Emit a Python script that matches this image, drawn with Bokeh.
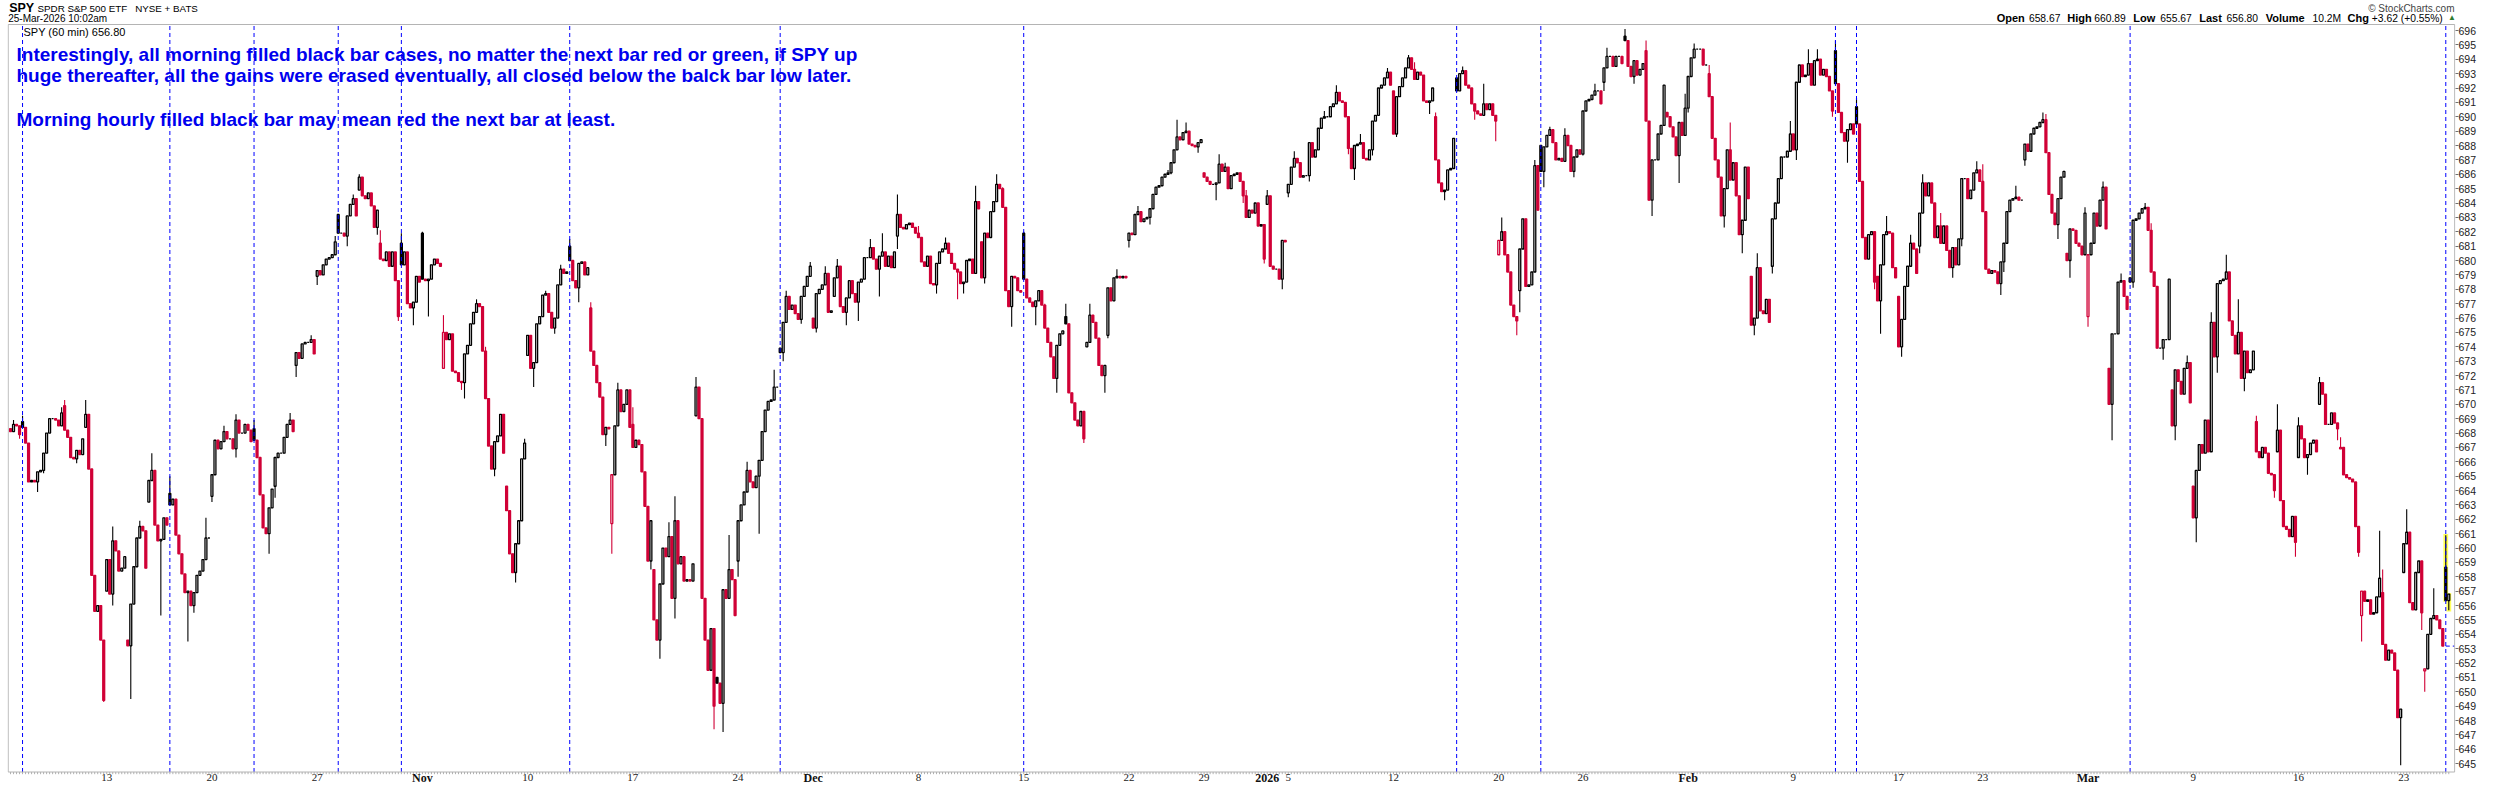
from bokeh.plotting import figure
from bokeh.models import ColumnDataSource, FixedTicker, Label, Range1d
from bokeh.embed import file_html
from bokeh.resources import INLINE
from bokeh.core.properties import value

# ---------------- data ----------------
# one record per trading day: (date, open, high, low, [hourly closes])
oct_days = [
    ("2025-10-06", 668.3, 668.9, 667.6, [668.1, 668.6, 668.5, 667.9]),
    ("2025-10-07", 668.8, 669.2, 663.9, [668.4, 667.3, 664.6, 664.7, 664.6, 665.3, 665.4]),
    ("2025-10-08", 665.4, 669.8, 665.2, [666.6, 668.0, 669.0, 669.0, 668.9, 668.5, 669.4]),
    ("2025-10-09", 669.9, 670.3, 665.9, [668.2, 667.7, 666.3, 666.2, 666.8, 666.5, 667.6]),
    ("2025-10-10", 668.4, 670.3, 649.3, [669.3, 665.5, 658.1, 655.6, 656.0, 653.6, 649.4]),
    ("2025-10-13", 657.0, 661.5, 656.0, [659.2, 656.8, 660.5, 659.8, 658.4, 658.6, 659.4]),
    ("2025-10-14", 653.6, 661.9, 649.5, [653.2, 656.1, 658.7, 660.7, 661.5, 661.2, 658.6]),
    ("2025-10-15", 663.2, 666.6, 655.3, [664.7, 665.4, 661.6, 660.5, 660.6, 662.1, 661.6]),
    ("2025-10-16", 663.8, 665.0, 653.5, [663.0, 663.4, 660.9, 659.6, 658.2, 656.9, 657.0]),
    ("2025-10-17", 657.0, 662.1, 655.5, [656.0, 656.9, 658.1, 658.4, 659.2, 660.7, 660.7]),
    ("2025-10-20", 663.6, 668.5, 663.2, [665.1, 667.5, 666.9, 667.4, 668.1, 667.6, 667.6]),
    ("2025-10-21", 667.6, 669.3, 666.3, [666.9, 668.9, 668.0, 668.0, 668.6, 668.2, 667.4]),
    ("2025-10-22", 668.3, 668.9, 659.6, [667.5, 666.3, 663.7, 661.4, 661.0, 662.8, 664.1]),
    ("2025-10-23", 664.3, 669.4, 663.5, [666.3, 666.6, 666.6, 667.7, 668.6, 668.9, 668.1]),
    ("2025-10-24", 672.7, 674.8, 671.9, [673.6, 673.2, 674.2, 674.3, 674.3, 674.5, 673.5]),
    ("2025-10-27", 678.9, 681.7, 678.3, [679.3, 679.0, 679.7, 680.1, 680.2, 680.4, 681.3]),
    ("2025-10-28", 683.2, 684.6, 681.0, [681.9, 681.9, 681.7, 683.1, 683.9, 684.3, 683.1]),
    ("2025-10-29", 684.9, 686.0, 681.8, [685.8, 684.5, 684.3, 684.7, 683.8, 682.3, 683.5]),
    ("2025-10-30", 681.2, 682.1, 675.8, [680.1, 680.0, 680.6, 679.6, 680.6, 678.6, 676.1]),
    ("2025-10-31", 681.2, 681.9, 675.5, [679.7, 680.6, 677.0, 676.7, 677.1, 678.9, 678.5]),
]
nov_days = [
    ("2025-11-03", 681.9, 682.0, 676.1, [678.7, 678.6, 678.7, 679.7, 680.1, 679.8, 679.6]),
    ("2025-11-04", 672.5, 676.2, 671.0, [675.0, 674.5, 674.9, 672.3, 672.2, 671.6, 671.5]),
    ("2025-11-05", 671.5, 677.3, 670.4, [673.5, 674.1, 675.6, 676.4, 677.0, 676.8, 673.7]),
    ("2025-11-06", 673.7, 674.0, 665.0, [670.4, 667.1, 665.5, 667.4, 667.8, 669.3, 666.6]),
    ("2025-11-07", 664.3, 667.6, 657.6, [662.6, 659.6, 658.3, 660.3, 661.9, 666.2, 667.3]),
    ("2025-11-10", 673.4, 677.9, 671.2, [674.8, 672.5, 672.9, 675.6, 676.1, 677.6, 677.7]),
    ("2025-11-11", 677.7, 679.7, 674.9, [676.4, 675.3, 676.0, 678.3, 679.4, 679.1, 679.2]),
    ("2025-11-12", 681.0, 681.5, 677.1, [680.0, 678.6, 678.1, 679.8, 679.9, 679.0, 679.5]),
    ("2025-11-13", 676.7, 677.1, 667.1, [673.7, 672.7, 671.5, 670.5, 667.9, 668.4, 668.3]),
    ("2025-11-14", 661.7, 671.5, 659.6, [665.1, 668.5, 671.0, 669.5, 670.0, 671.0, 668.4]),
    ("2025-11-17", 668.6, 669.8, 658.5, [667.0, 667.5, 667.2, 665.3, 662.9, 659.1, 661.9]),
    ("2025-11-18", 658.5, 661.8, 652.3, [655.0, 653.6, 657.5, 660.0, 659.4, 660.8, 656.5]),
    ("2025-11-19", 656.5, 663.6, 655.1, [661.9, 658.9, 659.4, 657.7, 657.8, 657.7, 658.9]),
    ("2025-11-20", 669.2, 671.9, 647.4, [671.2, 669.0, 656.5, 653.6, 651.5, 654.4, 649.0]),
    ("2025-11-21", 651.0, 660.9, 647.2, [650.6, 649.2, 657.1, 656.5, 658.5, 657.8, 655.3]),
    ("2025-11-24", 659.1, 666.0, 658.0, [661.9, 663.0, 663.9, 665.4, 664.6, 664.2, 665.0]),
    ("2025-11-25", 665.0, 672.4, 661.0, [666.1, 668.1, 669.6, 670.2, 670.3, 671.2, 671.2]),
    ("2025-11-26", 673.9, 677.9, 673.0, [673.6, 675.7, 677.5, 676.6, 676.9, 676.3, 675.9]),
    ("2025-11-28", 675.9, 679.9, 675.6, [677.5, 678.2, 678.9, 679.6]),
]
dec_days = [
    ("2025-12-01", 676.0, 679.6, 675.0, [675.3, 677.7, 678.0, 678.3, 679.1, 676.4, 676.5]),
    ("2025-12-02", 677.5, 680.1, 675.5, [678.8, 679.6, 676.8, 676.4, 677.4, 678.6, 677.7]),
    ("2025-12-03", 677.7, 681.5, 675.8, [677.1, 678.5, 678.7, 680.2, 680.2, 680.9, 680.1]),
    ("2025-12-04", 680.1, 681.9, 677.5, [679.4, 680.3, 680.6, 679.6, 680.3, 679.5, 680.6]),
    ("2025-12-05", 681.7, 684.6, 680.8, [683.2, 682.3, 682.2, 682.5, 682.6, 682.3, 681.9]),
    ("2025-12-08", 681.9, 682.4, 677.7, [681.6, 679.9, 679.6, 680.3, 678.4, 678.3, 679.8]),
    ("2025-12-09", 679.8, 681.6, 677.3, [680.6, 680.8, 681.2, 680.5, 679.8, 679.4, 679.2]),
    ("2025-12-10", 679.2, 685.2, 677.7, [678.4, 678.5, 680.0, 680.1, 679.1, 684.1, 683.6]),
    ("2025-12-11", 681.3, 686.0, 678.4, [678.8, 681.9, 681.6, 683.4, 684.1, 685.3, 685.0]),
    ("2025-12-12", 685.0, 685.1, 675.4, [683.7, 677.9, 676.8, 678.9, 678.8, 677.9, 677.8]),
    ("2025-12-15", 681.9, 682.0, 675.5, [678.7, 677.4, 677.1, 676.8, 677.2, 677.9, 676.9]),
    ("2025-12-16", 676.9, 677.0, 670.8, [675.3, 674.3, 673.3, 671.8, 674.1, 674.9, 675.1]),
    ("2025-12-17", 676.1, 677.0, 667.3, [675.6, 670.8, 670.1, 668.9, 668.5, 669.5, 667.6]),
    ("2025-12-18", 674.0, 677.0, 670.8, [674.3, 676.2, 675.7, 674.6, 672.7, 672.0, 672.7]),
    ("2025-12-19", 674.8, 679.4, 674.6, [678.1, 677.2, 678.8, 678.9, 678.8, 678.9, 678.8]),
    ("2025-12-22", 681.4, 683.8, 680.9, [681.9, 681.8, 683.2, 683.4, 682.7, 682.9, 683.0]),
    ("2025-12-23", 683.0, 686.3, 682.5, [683.6, 684.6, 685.1, 685.2, 685.8, 686.0, 686.1]),
    ("2025-12-24", 686.1, 689.8, 686.0, [686.8, 687.7, 688.6, 688.4]),
    ("2025-12-26", 688.4, 689.6, 687.5, [688.9, 689.0, 688.1, 688.0, 687.9, 688.2, 688.4]),
    ("2025-12-29", 686.1, 687.4, 684.2, [685.8, 685.5, 685.3, 685.3, 685.4, 686.7, 686.2]),
    ("2025-12-30", 686.2, 686.8, 684.0, [686.5, 685.0, 685.9, 686.0, 686.1, 685.5, 684.5]),
    ("2025-12-31", 684.5, 684.9, 679.8, [683.0, 683.5, 683.3, 684.0, 682.4, 682.5, 680.1]),
]
jan_days = [
    ("2026-01-02", 683.9, 684.9, 678.0, [684.5, 679.6, 679.4, 679.4, 678.7, 681.4, 681.3]),
    ("2026-01-05", 684.7, 687.6, 684.4, [685.3, 686.5, 687.1, 686.8, 685.8, 685.9, 685.9]),
    ("2026-01-06", 685.9, 690.4, 685.5, [688.2, 687.2, 687.7, 689.2, 689.9, 690.0, 690.0]),
    ("2026-01-07", 690.0, 692.2, 687.4, [690.7, 690.9, 691.7, 691.1, 691.0, 690.0, 687.8]),
    ("2026-01-08", 687.8, 688.8, 685.6, [686.4, 688.0, 688.1, 688.2, 687.1, 687.0, 687.7]),
    ("2026-01-09", 687.7, 693.4, 687.3, [689.7, 690.1, 692.0, 692.2, 692.7, 693.1, 692.2]),
    ("2026-01-12", 691.8, 694.3, 688.6, [688.8, 691.4, 692.1, 692.7, 693.4, 694.1, 693.3]),
    ("2026-01-13", 693.3, 693.8, 690.2, [692.6, 693.1, 692.9, 691.1, 691.0, 691.1, 692.0]),
    ("2026-01-14", 690.0, 690.3, 684.2, [687.0, 685.4, 684.8, 684.9, 686.3, 686.4, 688.5]),
    ("2026-01-15", 692.7, 693.5, 689.8, [691.8, 693.0, 693.2, 692.2, 692.0, 690.9, 690.4]),
    ("2026-01-16", 690.4, 692.3, 688.3, [690.2, 690.1, 690.9, 690.5, 690.9, 690.1, 689.7]),
    ("2026-01-20", 680.4, 683.0, 674.8, [681.4, 682.0, 680.4, 679.2, 676.9, 676.1, 675.8]),
    ("2026-01-21", 677.9, 687.0, 676.4, [680.8, 682.9, 678.2, 678.3, 679.2, 686.6, 683.5]),
    ("2026-01-22", 688.0, 689.3, 685.1, [686.2, 687.9, 688.7, 689.1, 688.2, 687.0, 687.1]),
    ("2026-01-23", 687.1, 689.2, 685.8, [686.9, 688.7, 688.0, 686.2, 687.2, 687.7, 687.4]),
    ("2026-01-26", 687.4, 692.3, 687.3, [690.4, 691.1, 691.2, 691.5, 691.8, 691.8, 690.9]),
    ("2026-01-27", 692.4, 694.8, 691.8, [693.4, 694.2, 694.2, 693.5, 694.2, 694.2, 693.7]),
    ("2026-01-28", 695.6, 696.1, 692.3, [695.3, 693.5, 692.8, 693.9, 692.9, 693.3, 693.7]),
    ("2026-01-29", 694.6, 695.3, 683.1, [689.7, 684.2, 687.0, 687.0, 688.8, 689.4, 692.2]),
    ("2026-01-30", 690.3, 691.6, 685.4, [690.0, 689.3, 688.6, 687.3, 689.6, 688.7, 690.6]),
]
feb_days = [
    ("2026-02-02", 690.6, 695.1, 690.3, [692.8, 694.1, 694.7, 694.7, 694.7, 693.6, 693.6]),
    ("2026-02-03", 693.0, 693.6, 682.3, [691.4, 688.5, 687.0, 685.8, 683.1, 685.0, 687.7]),
    ("2026-02-04", 687.7, 689.6, 680.5, [685.6, 686.8, 684.5, 681.8, 682.8, 686.5, 684.3]),
    ("2026-02-05", 678.9, 680.5, 674.8, [675.5, 676.0, 679.5, 676.5, 676.3, 677.3, 675.7]),
    ("2026-02-06", 679.6, 689.7, 679.1, [682.9, 684.0, 685.7, 687.2, 687.2, 687.6, 688.8]),
    ("2026-02-09", 688.8, 694.7, 687.0, [687.7, 692.4, 693.6, 692.8, 692.9, 693.7, 692.2]),
    ("2026-02-10", 692.2, 694.7, 690.0, [693.9, 694.0, 692.9, 693.3, 692.8, 691.8, 690.4]),
    ("2026-02-11", 694.6, 695.3, 686.8, [692.3, 690.3, 688.9, 688.3, 689.1, 689.5, 688.8]),
    ("2026-02-12", 690.7, 691.3, 678.0, [689.5, 685.5, 681.6, 680.1, 681.8, 682.0, 678.5]),
    ("2026-02-13", 678.9, 683.1, 674.9, [677.2, 679.7, 681.8, 682.0, 681.9, 679.5, 678.8]),
    ("2026-02-17", 677.5, 681.8, 673.3, [674.0, 675.9, 678.2, 679.6, 681.2, 680.8, 679.1]),
    ("2026-02-18", 681.0, 686.0, 680.5, [683.3, 685.4, 684.5, 685.4, 684.0, 681.6, 682.4]),
    ("2026-02-19", 682.4, 683.3, 678.8, [681.2, 682.4, 680.7, 679.5, 680.9, 679.7, 681.5]),
    ("2026-02-20", 681.5, 686.9, 681.0, [685.7, 685.7, 684.3, 684.9, 686.1, 686.3, 685.5]),
    ("2026-02-23", 685.5, 686.7, 677.6, [683.4, 679.4, 679.1, 679.3, 679.2, 678.4, 679.9]),
    ("2026-02-24", 679.9, 685.2, 679.2, [681.2, 683.4, 684.2, 684.3, 684.4, 684.2, 684.2]),
    ("2026-02-25", 687.0, 690.3, 686.6, [688.1, 687.6, 688.8, 689.2, 689.3, 689.6, 689.8]),
    ("2026-02-26", 689.8, 690.2, 681.5, [687.5, 684.6, 683.3, 682.5, 684.3, 685.8, 686.2]),
    ("2026-02-27", 680.5, 683.7, 678.8, [680.0, 682.2, 682.1, 681.2, 681.0, 680.4, 683.3]),
]
mar_days = [
    ("2026-03-02", 676.1, 685.5, 675.4, [680.4, 681.2, 683.3, 682.4, 684.2, 685.1, 682.2]),
    ("2026-03-03", 672.5, 679.1, 667.5, [670.0, 674.9, 674.9, 678.5, 678.6, 677.5, 676.6]),
    ("2026-03-04", 678.8, 684.0, 678.1, [678.5, 682.8, 682.9, 683.3, 683.6, 683.7, 682.1]),
    ("2026-03-05", 682.1, 682.6, 673.1, [679.2, 678.2, 673.9, 673.9, 674.5, 674.5, 678.7]),
    ("2026-03-06", 671.0, 673.4, 667.5, [668.5, 672.4, 671.6, 670.7, 672.5, 672.9, 670.1]),
    ("2026-03-09", 664.3, 676.4, 660.4, [662.1, 665.4, 667.2, 666.6, 668.9, 666.7, 675.7]),
    ("2026-03-10", 675.7, 680.4, 672.2, [673.3, 678.4, 678.6, 678.7, 679.2, 675.8, 674.8]),
    ("2026-03-11", 674.8, 677.3, 670.9, [673.5, 675.0, 671.8, 673.7, 672.2, 672.4, 673.7]),
    ("2026-03-12", 668.8, 669.2, 663.5, [666.7, 666.3, 667.0, 666.6, 665.2, 665.1, 664.0]),
    ("2026-03-13", 666.7, 670.0, 659.4, [668.2, 663.3, 661.5, 661.3, 660.8, 662.2, 660.4]),
    ("2026-03-16", 666.3, 669.1, 665.1, [668.5, 667.6, 666.3, 666.5, 667.3, 667.5, 666.7]),
    ("2026-03-17", 670.0, 671.9, 667.5, [671.5, 670.7, 668.6, 668.6, 669.4, 668.7, 668.3]),
    ("2026-03-18", 666.9, 667.7, 659.4, [667.0, 665.1, 664.9, 664.8, 664.6, 661.5, 659.7]),
    ("2026-03-19", 655.3, 661.2, 653.5, [657.0, 656.3, 656.4, 655.4, 655.5, 656.6, 657.9]),
    ("2026-03-20", 656.9, 658.5, 644.9, [653.3, 652.2, 652.9, 652.7, 651.5, 648.2, 648.8]),
    ("2026-03-23", 658.3, 662.7, 654.3, [660.3, 661.1, 656.2, 655.7, 658.3, 659.1, 655.5]),
    ("2026-03-24", 651.45, 657.2, 650.0, [651.6, 654.0, 655.1, 655.3, 655.0, 654.4, 653.18]),
    ("2026-03-25", 658.67, 660.89, 655.67, [656.35, 656.80]),
]
first_bar_index = 3   # the window opens on the 4th hourly bar of 6 Oct

# days whose morning bar is a filled black candle (blue dashed markers)
marked_days = ["2025-10-07", "2025-10-16", "2025-10-22", "2025-10-28", "2025-10-31",
               "2025-11-12", "2025-11-26", "2025-12-15", "2026-01-15", "2026-01-22",
               "2026-02-11", "2026-02-12", "2026-03-04", "2026-03-25"]

tick_dates = ["2025-10-13", "2025-10-20", "2025-10-27", "2025-11-03", "2025-11-10",
              "2025-11-17", "2025-11-24", "2025-12-01", "2025-12-08", "2025-12-15",
              "2025-12-22", "2025-12-29", "2026-01-02", "2026-01-05", "2026-01-12",
              "2026-01-20", "2026-01-26", "2026-02-02", "2026-02-09", "2026-02-17",
              "2026-02-23", "2026-03-02", "2026-03-09", "2026-03-16", "2026-03-23"]
tick_texts = ["13", "20", "27", "Nov", "10", "17", "24", "Dec", "8", "15", "22", "29",
              "2026", "5", "12", "20", "26", "Feb", "9", "17", "23", "Mar", "9", "16", "23"]
month_texts = ["Nov", "Dec", "2026", "Feb", "Mar"]
y_ticks = list(range(645, 697))

note_lines = [
    "Interestingly, all morning filled black bar cases, no matter the next bar red or green, if SPY up",
    "huge thereafter, all the gains were erased eventually, all closed below the balck bar low later.",
    "Morning hourly filled black bar may mean red the next bar at least.",
]
quote_items = [("Open", True), ("658.67", False), ("High", True), ("660.89", False),
               ("Low", True), ("655.67", False), ("Last", True), ("656.80", False),
               ("Volume", True), ("10.2M", False), ("Chg", True), ("+3.62 (+0.55%)", False)]

# ---------------- layout constants (pixels of the 2500x800 page) ----------------
PX_PER_BAR, BAR0_PX = 3.0065, 9.0            # horizontal: page x of bar 0, bar spacing
Y696_PX, Y645_PX = 38.0, 771.2               # vertical: page y of the 696 and 645 levels
PX_PER_USD = (Y645_PX - Y696_PX) / 51.0
FRAME_L, FRAME_R, FRAME_T, FRAME_B = 15, 2463, 8, 792
BOX_L, BOX_R, BOX_T, BOX_B = 15.7, 2462.2, 32.0, 779.5


def bar_at(px):
    return (px - BAR0_PX) / PX_PER_BAR


def price_at(py):
    return 696 - (py - Y696_PX) / PX_PER_USD


# ---------------- build hourly candles ----------------
RED = "#d00036"
BLK = "#000000"
days = oct_days + nov_days + dec_days + jan_days + feb_days + mar_days
xs, tops, bots, highs, lows, cols, fills = [], [], [], [], [], [], []
day_first = {}
idx = first_bar_index
prev = None
for d, o, hi, lo, cl in days:
    day_first[d] = idx
    ops = [o] + cl[:-1]
    t = [max(a, b) for a, b in zip(ops, cl)]
    bt = [min(a, b) for a, b in zip(ops, cl)]
    ih = t.index(max(t))
    il = len(bt) - 1 - bt[::-1].index(min(bt))
    for j, (a, b) in enumerate(zip(ops, cl)):
        ref = prev if prev is not None else a
        col = BLK if b >= ref else RED
        xs.append(idx)
        tops.append(t[j])
        bots.append(bt[j])
        highs.append(max(hi, t[j]) if j == ih else t[j])
        lows.append(min(lo, bt[j]) if j == il else bt[j])
        cols.append(col)
        fills.append("white" if b >= a else col)
        prev = b
        idx += 1

src = ColumnDataSource(dict(x=xs, top=tops, bottom=bots, high=highs, low=lows,
                            color=cols, fill=fills))

p = figure(frame_width=FRAME_R - FRAME_L, frame_height=FRAME_B - FRAME_T, title=None,
           x_range=Range1d(bar_at(FRAME_L), bar_at(FRAME_R)),
           y_range=Range1d(price_at(FRAME_B), price_at(FRAME_T)),
           x_axis_location=None, y_axis_location="right",
           output_backend="svg", toolbar_location=None,
           min_border_top=0, min_border_bottom=0, min_border_left=FRAME_L - 8,
           min_border_right=2492 - FRAME_R,
           background_fill_color="white", border_fill_color="white",
           outline_line_color=None)
p.xgrid.visible = False
p.ygrid.visible = False

# chart box
box_l, box_r = bar_at(BOX_L), bar_at(BOX_R)
box_t, box_b = price_at(BOX_T), price_at(BOX_B)

# yellow highlight of the current session's bars
last_day = days[-1][0]
li = day_first[last_day] - first_bar_index
p.quad(left=[x - 0.8 for x in xs[li:]], right=[x + 0.8 for x in xs[li:]],
       bottom=[v - 0.08 for v in lows[li:]], top=[v + 0.08 for v in highs[li:]],
       fill_color="#ffff5a", line_color=None)

p.segment(x0="x", y0="low", x1="x", y1="high", line_color="color", line_width=1.1, source=src)
p.vbar(x="x", width=0.64, top="top", bottom="bottom", fill_color="fill",
       line_color="color", line_width=1.3, source=src)

# blue dashed markers
mk = [day_first[d] for d in marked_days]
p.segment(x0=mk, y0=[box_b] * len(mk), x1=mk, y1=[box_t] * len(mk),
          line_color="#0000ff", line_dash="4 3", line_width=1)
prev_close = days[-2][4][-1]
p.segment(x0=[day_first[last_day]], y0=[prev_close], x1=[box_r], y1=[prev_close],
          line_color="#0000ff", line_dash="4 3", line_width=1)

p.quad(left=[box_l], right=[box_r], top=[box_t], bottom=[box_b], fill_color=None,
       line_color="#b4b4b4", line_width=1)

# x axis: tick marks on every hourly bar, date labels under them
tick_len = 2.2 / PX_PER_USD
p.segment(x0=xs, y0=[box_b] * len(xs), x1=xs, y1=[box_b - tick_len] * len(xs),
          line_color="#b0b0b0", line_width=1)
tick_idx = [day_first[d] for d in tick_dates]
day_ix = [i for i, t in zip(tick_idx, tick_texts) if t not in month_texts]
day_tx = [t for t in tick_texts if t not in month_texts]
mon_ix = [i for i, t in zip(tick_idx, tick_texts) if t in month_texts]
mon_tx = [t for t in tick_texts if t in month_texts]
lab_y = price_at(785.4)
p.text(x=day_ix, y=[lab_y] * len(day_ix), text=day_tx, text_align="center",
       text_baseline="middle", text_font=value("Liberation Sans Narrow"),
       text_font_size=value("11px"), text_color="#222222")
p.text(x=mon_ix, y=[lab_y] * len(mon_ix), text=mon_tx, text_align="center",
       text_baseline="middle", text_font=value("Liberation Sans Narrow"),
       text_font_style="bold", text_font_size=value("12px"), text_color="#111111")

ya = p.yaxis[0]
ya.ticker = FixedTicker(ticks=y_ticks)
ya.axis_line_color = None
ya.major_tick_line_color = "#707070"
ya.major_tick_in = 0
ya.major_tick_out = 3
ya.minor_tick_out = 0
ya.minor_tick_in = 0
ya.major_label_standoff = 0
ya.major_label_text_font = "Liberation Sans"
ya.major_label_text_font_size = "10.5px"
ya.major_label_text_color = "#222222"


def txt(px, py, text, size, bold=False, color="#000000", align="left"):
    # px, py: page pixels -> frame-relative screen units (y measured from frame bottom)
    p.add_layout(Label(x=px - FRAME_L, y=FRAME_B - py, x_units="screen", y_units="screen",
                       text=text, text_font="Liberation Sans", text_font_size=f"{size}px",
                       text_font_style="bold" if bold else "normal",
                       text_color=color, text_align=align, text_baseline="middle"))


# header
HEAD1, HEAD2 = 15.6, 25.8
txt(16.7, HEAD1, "SPY", 12.5, bold=True)
txt(45.0, HEAD1 + 0.3, "SPDR S&P 500 ETF", 9.8)
txt(142.7, HEAD1 + 0.3, "NYSE + BATS", 9.8)
txt(15.7, HEAD2, "25-Mar-2026 10:02am", 10)
txt(2462.0, HEAD1 + 0.3, "\u00a9 StockCharts.com", 10, color="#444444", align="right")
quote_x = [2004.2, 2036.4, 2074.7, 2101.7, 2140.7, 2167.7, 2206.7, 2234.0,
           2273.3, 2320.0, 2355.0, 2379.3]
for (s, b), qx in zip(quote_items, quote_x):
    txt(qx, HEAD2, s, 11 if b else 10.3, bold=b)
txt(2455.5, HEAD2 - 0.4, "\u25b2", 8, color="#2e7d32")
txt(31.0, 39.6, "SPY (60 min) 656.80", 11)

# annotation
for s, ny in zip(note_lines, [62.3, 83.3, 127.3]):
    txt(24.0, ny, s, 19, bold=True, color="#0000ee")

open("out.html", "w").write(file_html(p, INLINE))
